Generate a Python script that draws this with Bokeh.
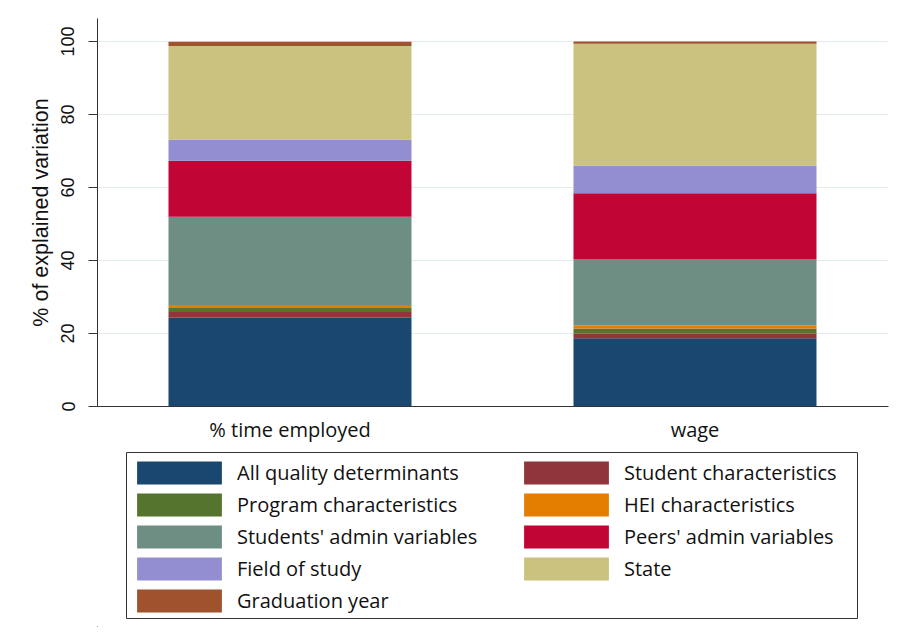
from bokeh.plotting import figure
from bokeh.models import (ColumnDataSource, Range1d, FixedTicker, Legend, LegendItem, BoxAnnotation)
from bokeh.layouts import column
from bokeh.embed import file_html
from bokeh.resources import INLINE

# ---- data ----
categories = ["% time employed", "wage"]
series = ["All quality determinants", "Student characteristics", "Program characteristics",
          "HEI characteristics", "Students' admin variables", "Peers' admin variables",
          "Field of study", "State", "Graduation year"]
all_quality = [24.3, 18.7]
student_chars = [1.6, 1.2]
program_chars = [1.1, 1.5]
hei_chars = [0.8, 0.8]
students_admin = [24.2, 18.1]
peers_admin = [15.3, 18.1]
field_of_study = [5.8, 7.6]
state = [25.7, 33.4]
graduation_year = [1.1, 0.6]
y_ticks = [0, 20, 40, 60, 80, 100]

colors = ["#1a476f", "#90353b", "#55752f", "#e37e00", "#6e8e84",
          "#c10534", "#938dd2", "#cac27e", "#a0522d"]

values = [all_quality, student_chars, program_chars, hei_chars, students_admin,
          peers_admin, field_of_study, state, graduation_year]
xpos = list(range(1, len(categories) + 1))
data = {"x": xpos}
for name, vals in zip(series, values):
    data[name] = vals
source = ColumnDataSource(data)

AXIS_FONT = "Liberation Sans"
TEXT_FONT = "Open Sans"

# ---- main chart ----
p = figure(width=893, height=445, output_backend="svg", toolbar_location=None,
           x_range=Range1d(0.5247, 2.4778), y_range=Range1d(0, 106.3),
           min_border_left=97, min_border_top=18, min_border_right=5, min_border_bottom=39)
p.outline_line_color = None
p.background_fill_color = "white"
p.border_fill_color = "white"

p.vbar_stack(series, x="x", width=0.6, color=colors, line_color=None, source=source)

p.xgrid.visible = False
p.ygrid.ticker = FixedTicker(ticks=y_ticks)
p.ygrid.grid_line_color = "#e2ecee"
p.ygrid.grid_line_width = 1

p.yaxis.ticker = FixedTicker(ticks=y_ticks)
p.yaxis.axis_label = "% of explained variation"
p.yaxis.axis_label_text_font = AXIS_FONT
p.yaxis.axis_label_text_font_size = "21.5px"
p.yaxis.axis_label_text_font_style = "normal"
p.yaxis.axis_label_text_color = "#111111"
p.yaxis.axis_label_standoff = 6
p.yaxis.major_label_orientation = "vertical"
p.yaxis.major_label_text_font = AXIS_FONT
p.yaxis.major_label_text_font_size = "18px"
p.yaxis.major_label_text_color = "#111111"
p.yaxis.major_label_standoff = 14
p.yaxis.major_tick_out = 9
p.yaxis.major_tick_in = 0
p.yaxis.minor_tick_line_color = None
p.yaxis.axis_line_color = "#333333"
p.yaxis.major_tick_line_color = "#333333"

p.xaxis.ticker = FixedTicker(ticks=xpos)
p.xaxis.major_label_overrides = {i: c for i, c in zip(xpos, categories)}
p.xaxis.major_label_text_font = TEXT_FONT
p.xaxis.major_label_text_font_size = "20px"
p.xaxis.major_label_text_color = "#111111"
p.xaxis.major_label_standoff = 9
p.xaxis.major_tick_out = 0
p.xaxis.major_tick_in = 0
p.xaxis.minor_tick_line_color = None
p.xaxis.axis_line_color = "#333333"

# ---- legend panel (frame aligned with main chart frame) ----
LW, LH = 791, 182
lp = figure(width=893, height=LH, output_backend="svg", toolbar_location=None,
            x_range=Range1d(0, LW), y_range=Range1d(0, LH),
            x_axis_location=None, y_axis_location=None,
            min_border_left=97, min_border_right=5, min_border_top=0, min_border_bottom=0)
lp.outline_line_color = None
lp.grid.visible = False
lp.background_fill_color = "white"
lp.border_fill_color = "white"

lp.add_layout(BoxAnnotation(left=29, right=760, bottom=9, top=175,
                            fill_alpha=0, line_color="#333333", line_width=1,
                            line_alpha=1))

items = []
for name, c in zip(series, colors):
    r = lp.vbar(x=[-1000], top=[1], width=0.001, fill_color=c, line_color=None)
    items.append(LegendItem(label=name, renderers=[r]))

def make_legend(its, loc):
    return Legend(items=its, location=loc, orientation="vertical",
                  glyph_width=106, glyph_height=29, spacing=3, label_standoff=5,
                  padding=0, margin=0, border_line_color=None,
                  background_fill_alpha=0,
                  label_text_font=TEXT_FONT, label_text_font_size="20px",
                  label_text_color="#111111")

lp.add_layout(make_legend(items[0::2], (29, 12)), "center")
lp.add_layout(make_legend(items[1::2], (416, 44)), "center")

layout = column(p, lp, spacing=0)
open("out.html", "w").write(file_html(layout, INLINE))
